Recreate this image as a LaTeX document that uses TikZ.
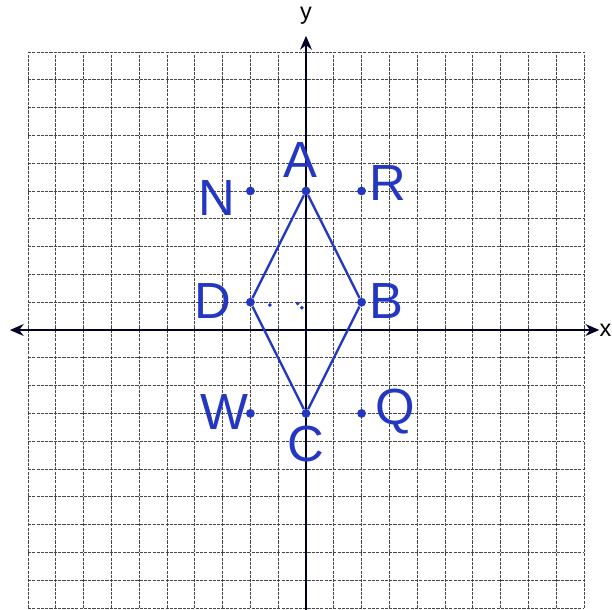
\documentclass[tikz,border=0pt]{standalone}
\usepackage{fontspec}
\setmainfont{Liberation Sans}
\usetikzlibrary{arrows.meta}
\definecolor{pen}{RGB}{35,55,195}
\tikzset{
  gridline/.style={gray!55!black, line width=0.5pt, dash pattern=on 1.6pt off 0.6pt},
  axis/.style={black!85!blue, line width=1.4pt, {Stealth[length=7pt,width=6pt]}-{Stealth[length=7pt,width=6pt]}},
  side/.style={pen, line width=1.2pt},
  pt/.style={circle, fill=pen, inner sep=0pt, minimum size=4.5pt},
  hand/.style={text=pen, font=\fontsize{26}{28}\selectfont, inner sep=0pt},
  axlabel/.style={font=\fontsize{12}{14}\selectfont, inner sep=0pt}
}
\begin{document}
\begin{tikzpicture}[x=0.5cm,y=0.5cm]
\useasboundingbox (-11.007,-10.036) rectangle (11.007,11.871);
\fill[white] (-11.007,-10.036) rectangle (11.007,11.871);
% grid
\foreach \k in {-10,...,10} {
  \draw[gridline] (\k,-10) -- (\k,10);
  \draw[gridline] (-10,\k) -- (10,\k);
}
% axes
\coordinate (xl) at (-10.65,0);
\coordinate (xr) at (10.55,0);
\coordinate (yb) at (0,-10.65);
\coordinate (yt) at (0,10.58);
\draw[axis] (xl) -- (xr);
\draw[axis] (yb) -- (yt);
\node[axlabel, anchor=east] (xlab) at (11.0,0) {x};
\node[axlabel] (ylab) at (0,11.3) {y};
% points
\node[pt] (A) at (0,5) {};
\node[pt] (B) at (2,1) {};
\node[pt] (C) at (0,-3) {};
\node[pt] (D) at (-2,1) {};
\node[pt] (N) at (-2,5) {};
\node[pt] (R) at (2,5) {};
\node[pt] (W) at (-2,-3) {};
\node[pt] (Q) at (2,-3) {};
% rhombus
\draw[side] (A) -- (B) -- (C) -- (D) -- (A);
% stray specks
\node[circle, fill=pen, inner sep=0pt, minimum size=2pt] (s1) at (-1.3,0.9) {};
\node[circle, fill=pen, inner sep=0pt, minimum size=2pt] (s2) at (-0.3,0.95) {};
\node[circle, fill=pen, inner sep=0pt, minimum size=2pt] (s3) at (-0.15,0.8) {};
% labels
\node[hand] (lA) at (-0.2,6.1) {A};
\node[hand] (lB) at (2.9,1.05) {B};
\node[hand] (lC) at (0,-4.1) {C};
\node[hand] (lD) at (-3.35,1.05) {D};
\node[hand] (lN) at (-3.2,4.75) {N};
\node[hand] (lR) at (2.95,5.3) {R};
\node[hand] (lW) at (-2.95,-2.95) {W};
\node[hand] (lQ) at (3.2,-2.95) {Q};
\end{tikzpicture}
\end{document}
